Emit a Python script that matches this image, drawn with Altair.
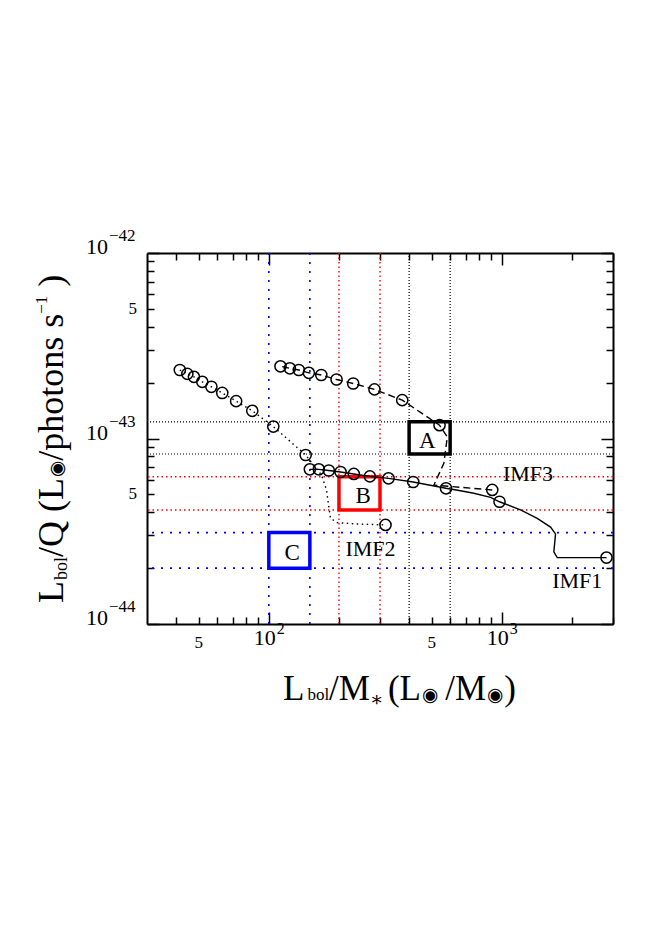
import altair as alt
import pandas as pd

SERIF = "Liberation Serif, Times New Roman, DejaVu Serif, serif"
SYM = "DejaVu Sans, sans-serif"

W, H = 466, 371

# ---------------- data ----------------
# IMF1 (solid line): circles and the line path
imf1_mx = [150.0, 163.9, 180.9, 203.1, 231.6, 271.4, 326.4, 416.6, 576.0, 977.4, 2813]
imf1_my = [6.82e-44, 6.82e-44, 6.72e-44, 6.60e-44, 6.44e-44, 6.25e-44, 6.10e-44,
           5.83e-44, 5.39e-44, 4.56e-44, 2.28e-44]
imf1_lx = [150.0, 163.9, 180.9, 203.1, 231.6, 271.4, 326.4, 416.6, 576.0, 664.8,
           758.3, 894.4, 977.4, 1203, 1419, 1618, 1700, 1672, 1729, 2813]
imf1_ly = [6.82e-44, 6.82e-44, 6.72e-44, 6.60e-44, 6.44e-44, 6.25e-44, 6.10e-44,
           5.83e-44, 5.39e-44, 5.23e-44, 5.07e-44, 4.82e-44, 4.56e-44, 4.12e-44,
           3.71e-44, 3.33e-44, 3.06e-44, 2.45e-44, 2.28e-44, 2.28e-44]

# IMF2 (dotted line)
imf2_mx = [41.5, 44.7, 47.7, 51.8, 56.7, 63.1, 72.4, 84.9, 104.5, 143.9, 316.8]
imf2_my = [2.34e-43, 2.23e-43, 2.15e-43, 2.02e-43, 1.90e-43, 1.76e-43, 1.59e-43,
           1.41e-43, 1.16e-43, 8.15e-44, 3.42e-44]
imf2_lx = [41.5, 44.7, 47.7, 51.8, 56.7, 63.1, 72.4, 84.9, 104.5, 143.9, 168.3,
           176.8, 180.4, 184.0, 196.7, 239.5, 316.8]
imf2_ly = [2.34e-43, 2.23e-43, 2.15e-43, 2.02e-43, 1.90e-43, 1.76e-43, 1.59e-43,
           1.41e-43, 1.16e-43, 8.15e-44, 6.36e-44, 5.28e-44, 4.38e-44, 3.71e-44,
           3.52e-44, 3.46e-44, 3.42e-44]

# IMF3 (dashed line)
imf3_mx = [909.6, 540.3, 373.7, 284.1, 230.2, 195.3, 167.9, 148.5, 134.5, 123.1, 112.2]
imf3_my = [5.28e-44, 1.18e-43, 1.61e-43, 1.84e-43, 1.98e-43, 2.08e-43, 2.20e-43,
           2.26e-43, 2.34e-43, 2.39e-43, 2.45e-43]
imf3_lx = [909.6, 510.8, 563.8, 583.3, 540.3, 373.7, 284.1, 230.2, 195.3, 167.9,
           148.5, 134.5, 123.1, 112.2]
imf3_ly = [5.28e-44, 5.61e-44, 7.35e-44, 1.019e-43, 1.18e-43, 1.61e-43, 1.84e-43,
           1.98e-43, 2.08e-43, 2.20e-43, 2.26e-43, 2.34e-43, 2.39e-43, 2.45e-43]

# reference lines (x in Lsun/Msun, y in Lsun/(photons s^-1))
vx_blue = [100, 150]
vx_red = [200, 300]
vx_black = [400, 600]
hy_black = [1.23e-43, 8.25e-44]
hy_red = [6.22e-44, 4.12e-44]
hy_blue = [3.11e-44, 2.0e-44]

box_names = ["A", "B", "C"]
box_colors = ["#000000", "#ff0000", "#0000ff"]
box_label_x = [478.5, 254.2, 126.0]
box_label_y = [9.82e-44, 4.96e-44, 2.45e-44]

curve_labels = ["IMF3", "IMF2", "IMF1"]
curve_label_x = [1295, 273.2, 2107]
curve_label_y = [6.52e-44, 2.57e-44, 1.73e-44]

tick_x = [40, 50, 60, 70, 80, 90, 100, 200, 300, 400, 500, 600, 700, 800, 900,
          1000, 2000, 3000]
tick_y = [1e-44, 2e-44, 3e-44, 4e-44, 5e-44, 6e-44, 7e-44, 8e-44, 9e-44,
          1e-43, 2e-43, 3e-43, 4e-43, 5e-43, 6e-43, 7e-43, 8e-43, 9e-43, 1e-42]
xlab_dec = [100, 1000]
xlab_dec_exp = ["2", "3"]
xlab_five = [50, 500]
ylab_dec = [1e-42, 1e-43, 1e-44]
ylab_dec_exp = ["\u221242", "\u221243", "\u221244"]
ylab_five = [5e-43, 5e-44]

# ---------------- scales ----------------
xs = alt.Scale(type="log", domain=[30, 3000], nice=False)
ys = alt.Scale(type="log", domain=[1e-44, 1e-42], nice=False)


def X(f):
    return alt.X(f, type="quantitative", scale=xs, axis=None)


def Y(f):
    return alt.Y(f, type="quantitative", scale=ys, axis=None)


def df_xy(xv, yv):
    return pd.DataFrame({"x": xv, "y": yv, "o": list(range(len(xv)))})


layers = []

# ---- inward ticks + frame on all four sides (axis orient trick) ----
major = "abs(log(datum.value)/LN10 - round(log(datum.value)/LN10)) < 0.001"
tsize = {"condition": {"test": major, "value": 12}, "value": 7}
common = dict(labels=False, domain=True, domainColor="black", domainWidth=2,
              grid=False, title=None, tickColor="black", tickWidth=1.5, tickSize=tsize)
dummy = pd.DataFrame({"x": [100.0], "y": [1e-43]})
layers.append(
    alt.Chart(dummy).mark_point(opacity=0).encode(
        x=alt.X("x:Q", scale=xs, axis=alt.Axis(orient="top", offset=-H, values=tick_x, **common)),
        y=alt.Y("y:Q", scale=ys, axis=alt.Axis(orient="right", offset=-W, values=tick_y, **common)),
    )
)
layers.append(
    alt.Chart(dummy).mark_point(opacity=0).encode(
        x=alt.X("x:Q", scale=xs, axis=alt.Axis(orient="bottom", offset=-H, values=tick_x, **common)),
        y=alt.Y("y:Q", scale=ys, axis=alt.Axis(orient="left", offset=-W, values=tick_y, **common)),
    )
)

# ---- reference lines ----
for vals, col, dash, sw in [(vx_blue, "#0000ff", [2, 7], 1.6),
                            (vx_red, "#ff0000", [1.5, 3], 1.4),
                            (vx_black, "#000000", [1, 2], 1.2)]:
    layers.append(alt.Chart(pd.DataFrame({"x": vals})).mark_rule(
        color=col, strokeDash=dash, strokeWidth=sw).encode(x=X("x")))
for vals, col, dash, sw in [(hy_blue, "#0000ff", [2, 7], 1.6),
                            (hy_red, "#ff0000", [1.5, 3], 1.4),
                            (hy_black, "#000000", [1, 2], 1.2)]:
    layers.append(alt.Chart(pd.DataFrame({"y": vals})).mark_rule(
        color=col, strokeDash=dash, strokeWidth=sw).encode(y=Y("y")))

# ---- boxes A, B, C ----
box_x0 = [vx_black[0], vx_red[0], vx_blue[0]]
box_x1 = [vx_black[1], vx_red[1], vx_blue[1]]
box_y0 = [hy_black[1], hy_red[1], hy_blue[1]]
box_y1 = [hy_black[0], hy_red[0], hy_blue[0]]
for i in range(3):
    bd = pd.DataFrame({"x0": [box_x0[i]], "x1": [box_x1[i]],
                       "y0": [box_y0[i]], "y1": [box_y1[i]]})
    layers.append(alt.Chart(bd).mark_rect(
        filled=False, stroke=box_colors[i], strokeWidth=3.5, fillOpacity=0).encode(
        x=X("x0"), x2="x1", y=Y("y0"), y2="y1"))

# ---- curves ----
line_style = dict(color="black", clip=True, strokeWidth=1.4)
layers.append(alt.Chart(df_xy(imf2_lx, imf2_ly)).mark_line(
    strokeDash=[1.5, 3.5], **line_style).encode(x=X("x"), y=Y("y"), order="o:Q"))
layers.append(alt.Chart(df_xy(imf3_lx, imf3_ly)).mark_line(
    strokeDash=[7, 4], **line_style).encode(x=X("x"), y=Y("y"), order="o:Q"))
layers.append(alt.Chart(df_xy(imf1_lx, imf1_ly)).mark_line(
    **line_style).encode(x=X("x"), y=Y("y"), order="o:Q"))

for mx, my in [(imf1_mx, imf1_my), (imf2_mx, imf2_my), (imf3_mx, imf3_my)]:
    layers.append(alt.Chart(df_xy(mx, my)).mark_point(
        shape="circle", filled=False, size=125, color="black", strokeWidth=1.5,
        opacity=1, clip=True).encode(x=X("x"), y=Y("y")))

# ---- labels in the plot ----
layers.append(alt.Chart(pd.DataFrame({"x": box_label_x, "y": box_label_y, "t": box_names}))
              .mark_text(font=SERIF, fontSize=23, color="black", align="center",
                         baseline="middle", dy=1)
              .encode(x=X("x"), y=Y("y"), text="t:N"))
layers.append(alt.Chart(pd.DataFrame({"x": curve_label_x, "y": curve_label_y, "t": curve_labels}))
              .mark_text(font=SERIF, fontSize=22, color="black", align="center",
                         baseline="middle", dy=1)
              .encode(x=X("x"), y=Y("y"), text="t:N"))

# ---- tick labels ----
layers.append(alt.Chart(pd.DataFrame({"v": xlab_dec})).mark_text(
    font=SERIF, fontSize=22, align="center", baseline="alphabetic", dx=-4, text="10",
    color="black").encode(x=X("v"), y=alt.value(H + 21)))
layers.append(alt.Chart(pd.DataFrame({"v": xlab_dec, "e": xlab_dec_exp})).mark_text(
    font=SERIF, fontSize=16, align="left", baseline="alphabetic", dx=8,
    color="black").encode(x=X("v"), y=alt.value(H + 10), text="e:N"))
layers.append(alt.Chart(pd.DataFrame({"v": xlab_five})).mark_text(
    font=SERIF, fontSize=17, align="center", baseline="alphabetic", text="5",
    color="black").encode(x=X("v"), y=alt.value(H + 24)))

layers.append(alt.Chart(pd.DataFrame({"v": ylab_dec})).mark_text(
    font=SERIF, fontSize=22, align="right", baseline="alphabetic", dy=1, text="10",
    color="black").encode(y=Y("v"), x=alt.value(-39)))
layers.append(alt.Chart(pd.DataFrame({"v": ylab_dec, "e": ylab_dec_exp})).mark_text(
    font=SERIF, fontSize=17, align="left", baseline="alphabetic", dy=-12,
    color="black").encode(y=Y("v"), x=alt.value(-38), text="e:N"))
layers.append(alt.Chart(pd.DataFrame({"v": ylab_five})).mark_text(
    font=SERIF, fontSize=17, align="right", baseline="middle", text="5",
    color="black").encode(y=Y("v"), x=alt.value(-10)))

# ---- axis titles composed of pieces (sub/superscripts) ----
TW = {'L': 0.611, 'b': 0.5, 'o': 0.5, 'l': 0.278, '/': 0.278, 'Q': 0.722, ' ': 0.25,
      '(': 0.333, ')': 0.333, 'p': 0.5, 'h': 0.5, 't': 0.278, 'n': 0.5, 's': 0.389,
      'M': 0.889, '\u2217': 0.5, '\u2212': 0.564, '1': 0.5, '\u25c9': 0.8}


def tw(s, size):
    return sum(TW.get(c, 0.5) for c in s) * size


one = pd.DataFrame({"a": [0]})


def piece(s, x, y, size, font=SERIF, angle=0):
    return alt.Chart(one).mark_text(
        text=s, font=font, fontSize=size, angle=angle, align="left",
        baseline="alphabetic", color="black").encode(x=alt.value(x), y=alt.value(y))


BIG = 35
# x title: (text, size, font, baseline shift, gap before)
xsegs = [("L", BIG, SERIF, 0, 0), ("bol", 17, SERIF, 0, 3), ("/M", BIG, SERIF, 0, 0),
         ("\u2217", 20, SERIF, 6, 0), ("(L", BIG, SERIF, 0, 8),
         ("\u25c9", 19, SYM, 1, 1), ("/M", BIG, SERIF, 0, 8),
         ("\u25c9", 19, SYM, 1, 1), (")", BIG, SERIF, 0, 2)]
cx, base = 136, 447
for s, sz, fn, sh, gap in xsegs:
    cx += gap
    layers.append(piece(s, cx, base + sh, sz, fn))
    cx += tw(s, sz)

# y title (rotated, reading upwards)
ysegs = [("L", 36, SERIF, 0, 0), ("bol", 18, SERIF, 4, 1), ("/Q (L", 36, SERIF, 0, 0),
         ("\u25c9", 19, SYM, 0, 1), ("/photons s", 36, SERIF, 0, 1),
         ("\u22121", 17, SERIF, -16, 0), (")", 36, SERIF, 0, 9)]
cy, bx = 350, -84
for s, sz, fn, sh, gap in ysegs:
    cy -= gap
    layers.append(piece(s, bx + sh, cy, sz, fn, angle=270))
    cy -= tw(s, sz)

chart = alt.layer(*layers).properties(
    width=W, height=H,
    autosize=alt.AutoSizeParams(type="none"),
    padding={"left": 139, "top": 245, "right": 35, "bottom": 290},
).configure_view(stroke="black", strokeWidth=2, fill="white").configure(background="white")

chart.save("out.html", embed_options={"renderer": "svg", "actions": False})
